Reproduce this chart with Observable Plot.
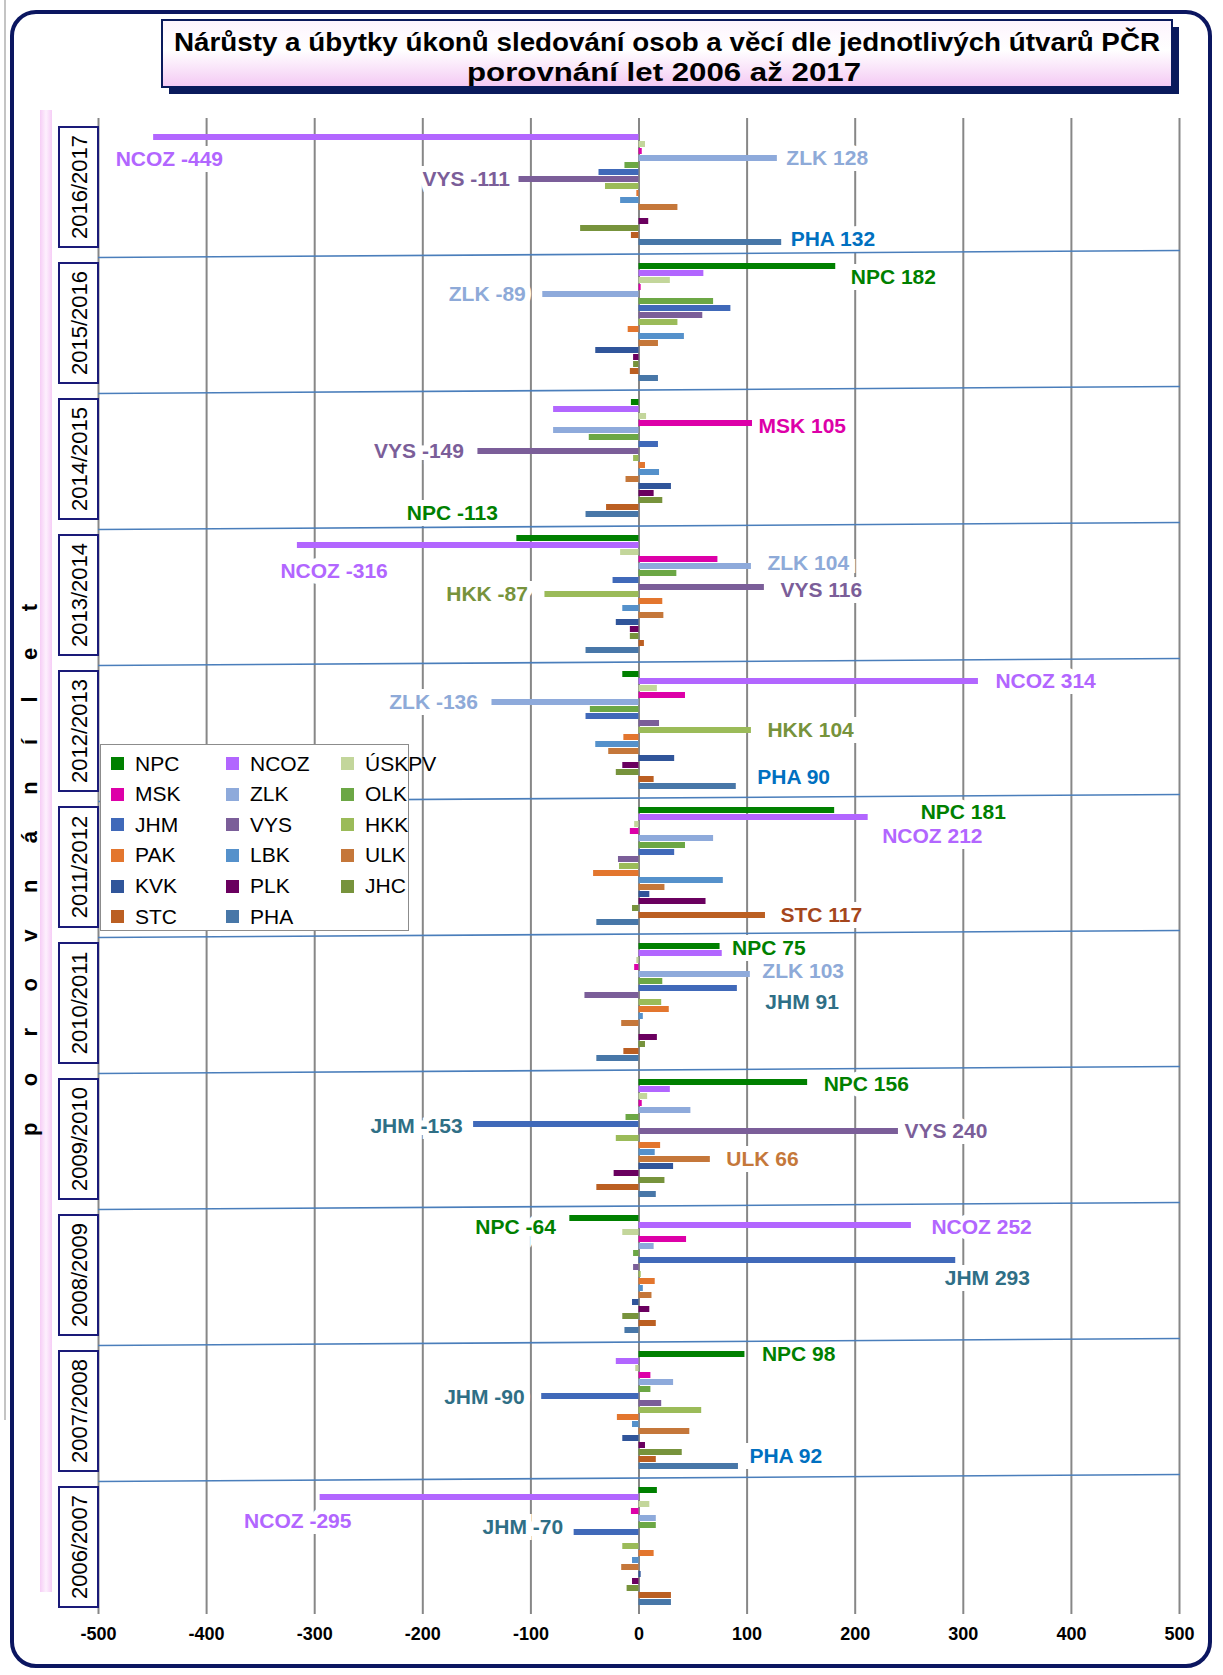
<!DOCTYPE html>
<html><head><meta charset="utf-8">
<script src="https://cdn.jsdelivr.net/npm/d3@7"></script>
<script src="https://cdn.jsdelivr.net/npm/@observablehq/plot@0.6"></script>
<style>
body{margin:0;background:#fff;}
#page{position:relative;width:1223px;height:1675px;overflow:hidden;font-family:"Liberation Sans",Arial,sans-serif;background:#fff;}
#page > svg{position:absolute;left:0;top:0;}
#legend{position:absolute;left:100px;top:744px;width:309px;height:187px;background:#fff;border:1px solid #8c8c8c;box-sizing:border-box;z-index:5;}
#legend .it{position:absolute;height:30px;display:flex;align-items:center;font-size:21px;color:#000;white-space:nowrap;}
#legend .sw{width:13px;height:13px;margin-right:11px;}
g[aria-label="x-axis tick label"]{font-weight:bold;}
</style></head><body><div id="page"></div>
<script>
// ---- data ----
const periods = ["2016/2017","2015/2016","2014/2015","2013/2014","2012/2013","2011/2012","2010/2011","2009/2010","2008/2009","2007/2008","2006/2007"];
const series = ["NPC","NCOZ","ÚSKPV","MSK","ZLK","OLK","JHM","VYS","HKK","PAK","LBK","ULK","KVK","PLK","JHC","STC","PHA"];
const legendOrder = ["NPC","MSK","JHM","PAK","KVK","STC","NCOZ","ZLK","VYS","LBK","PLK","PHA","ÚSKPV","OLK","HKK","ULK","JHC"];
const seriesColors = ["#008000","#b266ff","#c3d69b","#dd00a8","#8eaadb","#6ca745","#4069b9","#7b5e99","#9bbb59","#e3762e","#5591cb","#c5773a","#30559a","#6a005f","#77933c","#bb5f22","#4877a8"];
const xTicks = [-500,-400,-300,-200,-100,0,100,200,300,400,500];

// values per period, in series order
const v2016_2017 = [0,-449,6,3,128,-13,-37,-111,-31,-2,-17,36,0,9,-54,-7,132];
const v2015_2016 = [182,60,29,2,-89,69,85,59,36,-10,42,18,-40,-5,-5,-8,18];
const v2014_2015 = [-7,-79,7,105,-79,-46,18,-149,-5,6,19,-12,30,14,22,-30,-49];
const v2013_2014 = [-113,-316,-17,73,104,35,-24,116,-87,22,-15,23,-21,-8,-8,5,-49];
const v2012_2013 = [-15,314,17,43,-136,-45,-49,19,104,-14,-40,-28,33,-15,-21,14,90];
const v2011_2012 = [181,212,-4,-8,69,43,33,-19,-18,-42,78,24,10,62,-6,117,-39];
const v2010_2011 = [75,77,-2,-4,103,22,91,-50,21,28,4,-16,0,17,6,-14,-39];
const v2009_2010 = [156,29,8,3,48,-12,-153,240,-21,20,15,66,32,-23,24,-39,16];
const v2008_2009 = [-64,252,-15,44,14,-5,293,-5,2,15,4,12,-6,10,-15,16,-13];
const v2007_2008 = [98,-21,-3,11,32,11,-90,21,58,-20,-6,47,-15,6,40,16,92];
const v2006_2007 = [17,-295,10,-7,16,16,-60,0,-15,14,-6,-16,2,-6,-11,30,30];
const valueRows = [v2016_2017,v2015_2016,v2014_2015,v2013_2014,v2012_2013,v2011_2012,v2010_2011,v2009_2010,v2008_2009,v2007_2008,v2006_2007];

// annotated bars: [period, series, text]
const labels = [
  ["2016/2017","NCOZ","NCOZ -449"],["2016/2017","ZLK","ZLK 128"],["2016/2017","VYS","VYS -111"],["2016/2017","PHA","PHA 132"],
  ["2015/2016","NPC","NPC 182"],["2015/2016","ZLK","ZLK -89"],
  ["2014/2015","MSK","MSK 105"],["2014/2015","VYS","VYS -149"],
  ["2013/2014","NPC","NPC -113"],["2013/2014","NCOZ","NCOZ -316"],["2013/2014","ZLK","ZLK 104"],["2013/2014","HKK","HKK -87"],["2013/2014","VYS","VYS 116"],
  ["2012/2013","NCOZ","NCOZ 314"],["2012/2013","ZLK","ZLK -136"],["2012/2013","HKK","HKK 104"],["2012/2013","PHA","PHA 90"],
  ["2011/2012","NPC","NPC 181"],["2011/2012","NCOZ","NCOZ 212"],["2011/2012","STC","STC 117"],
  ["2010/2011","NPC","NPC 75"],["2010/2011","ZLK","ZLK 103"],["2010/2011","JHM","JHM 91"],
  ["2009/2010","NPC","NPC 156"],["2009/2010","JHM","JHM -153"],["2009/2010","VYS","VYS 240"],["2009/2010","ULK","ULK 66"],
  ["2008/2009","NPC","NPC -64"],["2008/2009","NCOZ","NCOZ 252"],["2008/2009","JHM","JHM 293"],
  ["2007/2008","NPC","NPC 98"],["2007/2008","JHM","JHM -90"],["2007/2008","PHA","PHA 92"],
  ["2006/2007","NCOZ","NCOZ -295"],["2006/2007","JHM","JHM -70"]
];

// ---- layout/style (not data) ----
const labelColors = {NPC:"#008000",NCOZ:"#b266ff",ZLK:"#8eaad8",VYS:"#7b5e99",PHA:"#0070c0",MSK:"#dd00a8",HKK:"#77933c",JHM:"#2f6f86",ULK:"#c5783a",STC:"#a5461c"};
// [anchor, dx, dy] for each label, same order as labels
const placement = [
  ["start",-38,22],["start",9,0],["end",-9,0],["start",9,-3],
  ["start",15,11],["end",-17,0],
  ["start",6,3],["end",-14,0],
  ["end",-19,-25],["start",-17,26],["start",16,-3],["end",-17,0],["start",16,3],
  ["start",17,0],["end",-14,0],["start",16,0],["start",21,-9],
  ["start",86,2],["start",14,19],["start",15,0],
  ["start",12,2],["start",12,-3],["start",28,14],
  ["start",16,2],["end",-11,2],["start",6,0],["start",16,0],
  ["end",-14,9],["start",20,2],["start",-11,18],
  ["start",17,0],["end",-17,1],["start",11,-10],
  ["start",-76,24],["end",-11,-5]
];

const data = periods.flatMap((p,i) => series.map((s,j) => ({period:p, series:s, value:valueRows[i][j]})));
const valueOf = (p,s) => valueRows[periods.indexOf(p)][series.indexOf(s)];
const labelMarks = labels.map((l,i) => Plot.text([{period:l[0], series:l[1], text:l[2], value:valueOf(l[0],l[1])}], {
  x:"value", y:"series", fy:"period", text:"text",
  fill: labelColors[l[1]], textAnchor: placement[i][0], dx: placement[i][1], dy: placement[i][2],
  fontSize: 21, fontWeight: "bold", stroke: "white", strokeWidth: 12, strokeLinejoin: "miter", paintOrder: "stroke"
}));

const page = document.getElementById("page");

// background decorations
const deco = d3.select(page).append("svg").attr("width",1223).attr("height",1675);
const defs = deco.append("defs");
const g1 = defs.append("linearGradient").attr("id","tg").attr("x1",0).attr("y1",0).attr("x2",0).attr("y2",1);
g1.append("stop").attr("offset","0%").attr("stop-color","#fdf4fd");
g1.append("stop").attr("offset","45%").attr("stop-color","#ffffff");
g1.append("stop").attr("offset","100%").attr("stop-color","#f4c9f4");
const g2 = defs.append("linearGradient").attr("id","pg").attr("x1",0).attr("y1",0).attr("x2",1).attr("y2",0);
g2.append("stop").attr("offset","0%").attr("stop-color","#f6cdf6");
g2.append("stop").attr("offset","50%").attr("stop-color","#fdf0fd");
g2.append("stop").attr("offset","100%").attr("stop-color","#f6cdf6");
deco.append("line").attr("x1",5).attr("x2",5).attr("y1",0).attr("y2",1420).attr("stroke","#b0b0b0").attr("stroke-width",1.5);
deco.append("rect").attr("x",12).attr("y",12).attr("width",1198).attr("height",1654).attr("rx",24)
  .attr("fill","#fff").attr("stroke","#0b1660").attr("stroke-width",4);
// title box
deco.append("rect").attr("x",169).attr("y",27).attr("width",1010).attr("height",67).attr("fill","#0a1a5c");
deco.append("rect").attr("x",162).attr("y",20).attr("width",1010).attr("height",67).attr("fill","url(#tg)").attr("stroke","#0a1a5c").attr("stroke-width",2);
deco.append("text").attr("x",667).attr("y",51).attr("text-anchor","middle").attr("font-family","'Liberation Sans Narrow','Liberation Sans',Arial,sans-serif")
  .attr("font-weight","bold").attr("font-size",26).attr("textLength",986).attr("lengthAdjust","spacingAndGlyphs")
  .text("Nárůsty a úbytky úkonů sledování osob a věcí dle jednotlivých útvarů PČR");
deco.append("text").attr("x",664).attr("y",81).attr("text-anchor","middle").attr("font-family","'Liberation Sans Narrow','Liberation Sans',Arial,sans-serif")
  .attr("font-weight","bold").attr("font-size",26).attr("textLength",394).attr("lengthAdjust","spacingAndGlyphs")
  .text("porovnání let 2006 až 2017");
// left pink band + vertical caption
deco.append("rect").attr("x",40).attr("y",110).attr("width",12).attr("height",1482).attr("fill","url(#pg)");
deco.append("text").attr("transform","translate(29,870) rotate(-90)").attr("text-anchor","middle").attr("dominant-baseline","central")
  .attr("font-weight","bold").attr("font-size",22).attr("textLength",532).attr("lengthAdjust","spacing")
  .text("p o r o v n á n í   l e t");

const plot = Plot.plot({
  width: 1223, height: 1675,
  marginTop: 117, marginBottom: 61, marginLeft: 98, marginRight: 44,
  style: {background: "transparent", fontFamily: "'Liberation Sans', Arial, sans-serif", color: "#000", overflow: "visible"},
  x: {domain: [-500, 500], axis: null, label: null},
  y: {domain: series, axis: null, paddingInner: 0.14, paddingOuter: 0.78},
  fy: {domain: periods, axis: null, padding: 0},
  color: {domain: series, range: seriesColors},
  marks: [
    Plot.gridX(xTicks, {stroke: "#878787", strokeOpacity: 1, strokeWidth: 2}),
    Plot.barX(data, {x: "value", y: "series", fy: "period", fill: "series"}),
    ...labelMarks,
    Plot.axisX(xTicks, {anchor: "bottom", label: null, tickSize: 0, tickPadding: 13, tickFormat: d => String(d), fontSize: 18, fontWeight: "bold", fill: "#000"})
  ]
});
page.appendChild(plot);

// separators and period boxes, placed with the fy scale
const fy = plot.scale("fy");
const bw = fy.bandwidth ?? ((fy.range[1]-fy.range[0])/periods.length);
const over = d3.select(plot);
periods.forEach((p, i) => {
  const y0 = fy.apply(p);
  if (i > 0) {
    over.append("line").attr("x1",98).attr("x2",1180).attr("y1",y0+3.5).attr("y2",y0-3.5)
      .attr("stroke","#4a7ebb").attr("stroke-width",1.6);
  }
  over.append("rect").attr("x",59).attr("y",y0+9).attr("width",39).attr("height",bw-16)
    .attr("fill","#fff").attr("stroke","#1a1a78").attr("stroke-width",2);
  over.append("text").attr("transform",`translate(79,${y0+9+(bw-16)/2}) rotate(-90)`)
    .attr("text-anchor","middle").attr("dominant-baseline","central").attr("font-size",22).attr("fill","#000")
    .text(p);
});

// legend
const leg = d3.select(page).append("div").attr("id","legend");
legendOrder.forEach((s, k) => {
  const col = Math.floor(k/6), row = k%6;
  const it = leg.append("div").attr("class","it").style("left",(10+115*col)+"px").style("top",(3.6+30.6*row)+"px");
  it.append("div").attr("class","sw").style("background",seriesColors[series.indexOf(s)]);
  it.append("span").text(s);
});
</script></body></html>
